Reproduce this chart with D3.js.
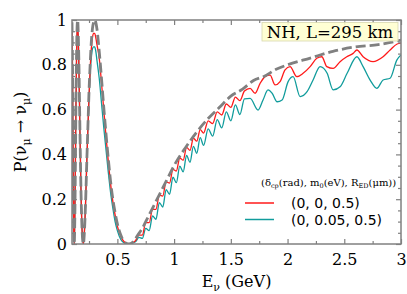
<!DOCTYPE html>
<html>
<head>
<meta charset="utf-8">
<script src="https://cdn.jsdelivr.net/npm/d3@7"></script>
<style>
  body { margin: 0; background: #fff; }
  svg { display: block; }
  .tick text { font-family: "DejaVu Serif", serif; font-size: 16px; fill: #000; }
  .tick line { stroke: #808080; stroke-width: 1.2; }
</style>
</head>
<body>
<div id="chart"></div>
<script>
// standard oscillation (grey dashed)
const stdE = [0.100, 0.105, 0.110, 0.115, 0.120, 0.125, 0.130, 0.135, 0.140, 0.145, 0.150, 0.155, 0.160,
  0.170, 0.180, 0.190, 0.200, 0.210, 0.220, 0.230, 0.240, 0.250, 0.260, 0.270, 0.280, 0.290, 0.300,
  0.320, 0.340, 0.360, 0.380, 0.400, 0.420, 0.440, 0.460, 0.480, 0.500, 0.530, 0.560, 0.600, 0.640,
  0.680, 0.720, 0.760, 0.800, 0.850, 0.900, 0.950, 1.000, 1.100, 1.200, 1.300, 1.400, 1.500, 1.600,
  1.700, 1.800, 1.900, 2.000, 2.200, 2.400, 2.600, 2.800, 3.000];
const stdP = [0.99, 0.77, 0.38, 0.08, 0.00, 0.12, 0.36, 0.63, 0.84, 0.97, 1.00, 0.94, 0.83,
  0.51, 0.22, 0.05, 0.00, 0.06, 0.19, 0.36, 0.52, 0.68, 0.80, 0.90, 0.96, 0.99, 1.00,
  0.96, 0.86, 0.74, 0.61, 0.49, 0.38, 0.28, 0.20, 0.14, 0.09, 0.04, 0.01, 0.00, 0.01,
  0.04, 0.07, 0.11, 0.15, 0.20, 0.25, 0.30, 0.35, 0.43, 0.50, 0.56, 0.61, 0.66, 0.69,
  0.73, 0.75, 0.78, 0.80, 0.83, 0.86, 0.88, 0.89, 0.91];

// (0, 0, 0.5) red
const redE = [0.100, 0.105, 0.110, 0.115, 0.120, 0.125, 0.130, 0.135, 0.140, 0.145, 0.150, 0.155, 0.160,
  0.170, 0.180, 0.190, 0.200, 0.210, 0.220, 0.230, 0.240, 0.250, 0.260, 0.270, 0.280, 0.290, 0.300,
  0.310, 0.320, 0.340, 0.360, 0.380, 0.400, 0.420, 0.440, 0.460, 0.480, 0.500, 0.530, 0.560, 0.600,
  0.63, 0.66, 0.69, 0.72, 0.75, 0.78, 0.81, 0.84, 0.87, 0.90, 0.93, 0.96, 0.99, 1.02, 1.05, 1.08,
  1.11, 1.14, 1.17, 1.20, 1.23, 1.26, 1.30, 1.34, 1.38, 1.42, 1.46, 1.50, 1.54, 1.58, 1.62,
  1.670, 1.714, 1.758, 1.802, 1.846, 1.890, 1.934, 1.978, 2.022, 2.081, 2.137, 2.199, 2.258, 2.302,
  2.346, 2.402, 2.463, 2.522, 2.578, 2.611, 2.666, 2.754, 2.842, 2.904, 2.966, 3.000];
const redP = [0.98, 0.76, 0.38, 0.08, 0.00, 0.12, 0.36, 0.62, 0.83, 0.95, 0.97, 0.93, 0.82,
  0.50, 0.22, 0.05, 0.00, 0.06, 0.19, 0.36, 0.51, 0.66, 0.78, 0.87, 0.92, 0.94, 0.94,
  0.92, 0.89, 0.83, 0.72, 0.60, 0.48, 0.37, 0.27, 0.19, 0.13, 0.08, 0.035, 0.01, 0.00,
  0.005, 0.015, 0.040, 0.040, 0.095, 0.095, 0.155, 0.155, 0.218, 0.214, 0.277, 0.272, 0.333, 0.326, 0.384, 0.374,
  0.431, 0.418, 0.472, 0.459, 0.511, 0.495, 0.550, 0.538, 0.590, 0.576, 0.625, 0.610, 0.656, 0.640, 0.683,
  0.695, 0.673, 0.717, 0.747, 0.754, 0.710, 0.725, 0.777, 0.792, 0.747, 0.762, 0.792, 0.829, 0.836,
  0.792, 0.784, 0.814, 0.836, 0.851, 0.866, 0.836, 0.814, 0.836, 0.866, 0.893, 0.897];

// (0, 0.05, 0.5) teal
const tealE = [0.100, 0.105, 0.110, 0.115, 0.120, 0.125, 0.130, 0.135, 0.140, 0.145, 0.150, 0.155, 0.160,
  0.170, 0.180, 0.190, 0.200, 0.210, 0.220, 0.230, 0.240, 0.250, 0.260, 0.270, 0.280, 0.290, 0.300,
  0.310, 0.320, 0.340, 0.360, 0.380, 0.400, 0.420, 0.440, 0.460, 0.480, 0.500, 0.530, 0.560, 0.600,
  0.63, 0.66, 0.69, 0.72, 0.75, 0.78, 0.81, 0.84, 0.87, 0.90, 0.93, 0.96, 0.99, 1.02, 1.05, 1.08,
  1.11, 1.14, 1.17, 1.20, 1.23, 1.26, 1.30, 1.34, 1.38, 1.42, 1.46, 1.50, 1.54, 1.58, 1.62,
  1.670, 1.740, 1.784, 1.828, 1.864, 1.908, 1.952, 2.005, 2.049, 2.111, 2.172, 2.225, 2.287, 2.349,
  2.402, 2.463, 2.525, 2.611, 2.666, 2.728, 2.787, 2.842, 2.904, 2.963, 3.000];
const tealP = [0.98, 0.76, 0.38, 0.08, 0.00, 0.12, 0.36, 0.62, 0.83, 0.94, 0.96, 0.92, 0.82,
  0.50, 0.22, 0.05, 0.00, 0.06, 0.19, 0.36, 0.51, 0.65, 0.76, 0.83, 0.87, 0.88, 0.88,
  0.86, 0.82, 0.74, 0.63, 0.52, 0.42, 0.32, 0.23, 0.16, 0.10, 0.06, 0.02, 0.005, 0.00,
  0.005, 0.010, 0.030, 0.025, 0.070, 0.060, 0.125, 0.110, 0.185, 0.165, 0.243, 0.222, 0.298, 0.274, 0.348, 0.322,
  0.395, 0.365, 0.436, 0.405, 0.475, 0.440, 0.514, 0.482, 0.555, 0.518, 0.590, 0.550, 0.621, 0.578, 0.648,
  0.650, 0.598, 0.643, 0.688, 0.673, 0.635, 0.643, 0.725, 0.747, 0.658, 0.680, 0.732, 0.792, 0.762,
  0.688, 0.702, 0.762, 0.836, 0.792, 0.732, 0.695, 0.732, 0.740, 0.821, 0.844];

const xTicks = [0.5, 1, 1.5, 2, 2.5, 3];
const xTickLabels = ["0.5", "1", "1.5", "2", "2.5", "3"];
const xMinor = [0.25, 0.75, 1.25, 1.75, 2.25, 2.75];
const yTicks = [0, 0.2, 0.4, 0.6, 0.8, 1];
const yTickLabels = ["0", "0.2", "0.4", "0.6", "0.8", "1"];
const yMinor = d3.range(0.05, 1, 0.05).filter((v) => Math.abs(v * 5 - Math.round(v * 5)) > 1e-6);

const legendLabels = ["(0, 0, 0.5)", "(0, 0.05, 0.5)"];
const legendColors = ["#ff1a1a", "#119c9c"];

const width = 407;
const height = 294;
const margin = {top: 20, right: 6, bottom: 50, left: 72};
const w = width - margin.left - margin.right;
const h = height - margin.top - margin.bottom;

const svg = d3.select("#chart")
    .append("svg")
    .attr("width", width)
    .attr("height", height);

const g = svg.append("g")
    .attr("transform", "translate(" + margin.left + "," + margin.top + ")");

const x = d3.scaleLinear()
    .domain([0.1, 3])
    .range([0, w]);
const y = d3.scaleLinear()
    .domain([0, 1])
    .range([h, 0]);

g.append("clipPath")
    .attr("id", "clip")
    .append("rect")
    .attr("width", w)
    .attr("height", h);

const line = d3.line()
    .x((d) => x(d[0]))
    .y((d) => y(d[1]))
    .curve(d3.curveMonotoneX);

const plot = g.append("g").attr("clip-path", "url(#clip)");

// coloured curves under the dashed one
plot.append("path")
    .datum(tealE.map((e, i) => [e, tealP[i]]))
    .attr("d", line)
    .attr("fill", "none")
    .attr("stroke", legendColors[1])
    .attr("stroke-width", 1.3);

plot.append("path")
    .datum(redE.map((e, i) => [e, redP[i]]))
    .attr("d", line)
    .attr("fill", "none")
    .attr("stroke", legendColors[0])
    .attr("stroke-width", 1.3);

plot.append("path")
    .datum(stdE.map((e, i) => [e, stdP[i]]))
    .attr("d", line)
    .attr("fill", "none")
    .attr("stroke", "#808080")
    .attr("stroke-width", 2.8)
    .attr("stroke-dasharray", "10,4");

// axes, ticks pointing inward
g.append("g")
    .attr("transform", "translate(0," + h + ")")
    .call(d3.axisBottom(x).tickValues(xTicks).tickSizeInner(-5).tickSizeOuter(0).tickPadding(10)
        .tickFormat((d, i) => xTickLabels[i]));
g.append("g")
    .attr("transform", "translate(0," + h + ")")
    .call(d3.axisBottom(x).tickValues(xMinor).tickSizeInner(-3).tickSizeOuter(0).tickFormat(""));
g.append("g")
    .call(d3.axisTop(x).tickValues(xTicks).tickSizeInner(-5).tickSizeOuter(0).tickFormat(""));
g.append("g")
    .call(d3.axisTop(x).tickValues(xMinor).tickSizeInner(-3).tickSizeOuter(0).tickFormat(""));

g.append("g")
    .call(d3.axisLeft(y).tickValues(yTicks).tickSizeInner(-5).tickSizeOuter(0).tickPadding(5)
        .tickFormat((d, i) => yTickLabels[i]));
g.append("g")
    .call(d3.axisLeft(y).tickValues(yMinor).tickSizeInner(-3).tickSizeOuter(0).tickFormat(""));
g.append("g")
    .attr("transform", "translate(" + w + ",0)")
    .call(d3.axisRight(y).tickValues(yTicks).tickSizeInner(-5).tickSizeOuter(0).tickFormat(""));
g.append("g")
    .attr("transform", "translate(" + w + ",0)")
    .call(d3.axisRight(y).tickValues(yMinor).tickSizeInner(-3).tickSizeOuter(0).tickFormat(""));

g.selectAll(".domain").remove();

g.append("rect")
    .attr("width", w)
    .attr("height", h)
    .attr("fill", "none")
    .attr("stroke", "#808080")
    .attr("stroke-width", 1.5);

// NH box
const nh = g.append("g");
nh.append("rect")
    .attr("x", 190)
    .attr("y", 2.5)
    .attr("width", 136)
    .attr("height", 18.5)
    .attr("fill", "#ffffcc")
    .attr("fill-opacity", 0.85)
    .attr("stroke", "#d8d8b0")
    .attr("stroke-width", 0.8);
nh.append("text")
    .attr("x", 258)
    .attr("y", 18.3)
    .attr("text-anchor", "middle")
    .style("font-family", "DejaVu Serif, serif")
    .style("font-size", "16.5px")
    .text("NH, L=295 km");

// legend
const leg = g.append("g");
const title = leg.append("text")
    .attr("x", 189)
    .attr("y", 166)
    .style("font-family", "DejaVu Serif, serif")
    .style("font-size", "10px");
title.append("tspan").text("(δ");
title.append("tspan").attr("dy", 2).style("font-size", "6.5px").text("cp");
title.append("tspan").attr("dy", -2).text("(rad), m");
title.append("tspan").attr("dy", 2).style("font-size", "6.5px").text("0");
title.append("tspan").attr("dy", -2).text("(eV), R");
title.append("tspan").attr("dy", 2).style("font-size", "6.5px").text("ED");
title.append("tspan").attr("dy", -2).text("(μm))");

legendLabels.forEach(function(lbl, i) {
  leg.append("line")
      .attr("x1", 173)
      .attr("x2", 202)
      .attr("y1", 183 + i * 16.5)
      .attr("y2", 183 + i * 16.5)
      .attr("stroke", legendColors[i])
      .attr("stroke-width", 1.5);
  leg.append("text")
      .attr("x", 219)
      .attr("y", 188 + i * 16.5)
      .style("font-family", "DejaVu Sans, sans-serif")
      .style("font-size", "14px")
      .text(lbl);
});

// axis labels
const xl = svg.append("text")
    .attr("x", margin.left + w / 2)
    .attr("y", 287)
    .attr("text-anchor", "middle")
    .style("font-family", "DejaVu Serif, serif")
    .style("font-size", "16px");
xl.append("tspan").text("E");
xl.append("tspan").attr("dy", 4).style("font-size", "11px").text("ν");
xl.append("tspan").attr("dy", -4).text(" (GeV)");

const yl = svg.append("text")
    .attr("transform", "translate(26," + (margin.top + h / 2) + ") rotate(-90)")
    .attr("text-anchor", "middle")
    .style("font-family", "DejaVu Serif, serif")
    .style("font-size", "16px");
yl.append("tspan").text("P(ν");
yl.append("tspan").attr("dy", 4).style("font-size", "11px").text("μ");
yl.append("tspan").attr("dy", -4).text(" → ν");
yl.append("tspan").attr("dy", 4).style("font-size", "11px").text("μ");
yl.append("tspan").attr("dy", -4).text(")");
</script>
</body>
</html>
